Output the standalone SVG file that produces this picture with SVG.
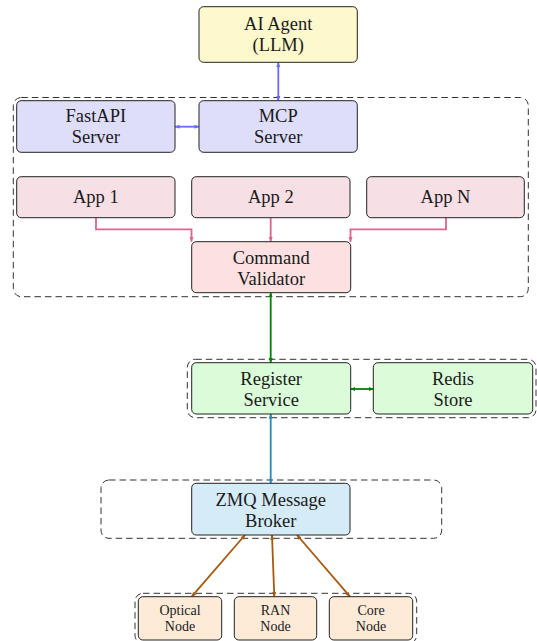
<svg xmlns="http://www.w3.org/2000/svg" width="537" height="641" viewBox="0 0 537 641">
<style>
.node{stroke:#222;stroke-width:1}
.grp{fill:none;stroke:#333;stroke-width:1;stroke-dasharray:6.5 4}
text{font-family:"Liberation Serif","Times New Roman",serif;font-size:18.5px;fill:#1a1a1a;text-anchor:middle}
.sm{font-size:14px}
.c{fill:none;stroke-width:1.8}
</style>
<defs>
<marker id="hb" viewBox="0 0 6 6" refX="5.5" refY="3" markerWidth="5" markerHeight="5" markerUnits="userSpaceOnUse" orient="auto-start-reverse"><path d="M0,0.6 L6,3 L0,5.4 Z" fill="#6b6bff"/></marker>
<marker id="hp" viewBox="0 0 6 6" refX="5.5" refY="3" markerWidth="5" markerHeight="5" markerUnits="userSpaceOnUse" orient="auto-start-reverse"><path d="M0,0.6 L6,3 L0,5.4 Z" fill="#dc6590"/></marker>
<marker id="hg" viewBox="0 0 6 6" refX="5.5" refY="3" markerWidth="5" markerHeight="5" markerUnits="userSpaceOnUse" orient="auto-start-reverse"><path d="M0,0.6 L6,3 L0,5.4 Z" fill="#008000"/></marker>
<marker id="ht" viewBox="0 0 6 6" refX="5.5" refY="3" markerWidth="5" markerHeight="5" markerUnits="userSpaceOnUse" orient="auto-start-reverse"><path d="M0,0.6 L6,3 L0,5.4 Z" fill="#2b8bb0"/></marker>
<marker id="hr" viewBox="0 0 6 6" refX="5.5" refY="3" markerWidth="5" markerHeight="5" markerUnits="userSpaceOnUse" orient="auto-start-reverse"><path d="M0,0.6 L6,3 L0,5.4 Z" fill="#a65a10"/></marker>
</defs>
<g id="groups">
<rect class="grp" x="13.3" y="97.5" width="515" height="199.2" rx="8"/>
<rect class="grp" x="187.3" y="359.3" width="348.7" height="58.4" rx="8"/>
<rect class="grp" x="101" y="480" width="340.7" height="58.3" rx="8"/>
<rect class="grp" x="135" y="593.3" width="281.7" height="50" rx="8"/>
</g>
<g id="connectors">
<line class="c" stroke="#6b6bff" x1="278.3" y1="62.3" x2="278.3" y2="100.7" marker-start="url(#hb)" marker-end="url(#hb)"/>
<line class="c" stroke="#6b6bff" x1="175" y1="126.7" x2="199" y2="126.7" marker-start="url(#hb)" marker-end="url(#hb)"/>
<path class="c" stroke="#dc6590" d="M96,217.7 V229.3 H191.5 V241.7" marker-end="url(#hp)"/>
<path class="c" stroke="#dc6590" d="M270.7,217.7 V241.7" marker-end="url(#hp)"/>
<path class="c" stroke="#dc6590" d="M446,217.7 V229.3 H350.5 V241.7" marker-end="url(#hp)"/>
<line class="c" stroke="#008000" x1="270.7" y1="292.7" x2="270.7" y2="362.7" marker-start="url(#hg)" marker-end="url(#hg)"/>
<line class="c" stroke="#008000" x1="350.7" y1="389" x2="373.3" y2="389" marker-start="url(#hg)" marker-end="url(#hg)"/>
<line class="c" stroke="#2b8bb0" x1="270.7" y1="414" x2="270.7" y2="483.3" marker-start="url(#ht)" marker-end="url(#ht)"/>
<line class="c" stroke="#a65a10" x1="245" y1="535" x2="191.7" y2="596.7" marker-start="url(#hr)" marker-end="url(#hr)"/>
<line class="c" stroke="#a65a10" x1="272" y1="535" x2="274.3" y2="596.7" marker-start="url(#hr)" marker-end="url(#hr)"/>
<line class="c" stroke="#a65a10" x1="297" y1="535" x2="350" y2="596.7" marker-start="url(#hr)" marker-end="url(#hr)"/>
</g>
<g id="ai-agent"><rect class="node" x="199" y="6.7" width="158.3" height="55.6" rx="4.5" fill="#fdf9cc"/><text x="278.2" y="29.5">AI Agent</text><text x="278.2" y="50.5">(LLM)</text></g>
<g id="fastapi"><rect class="node" x="16.7" y="100.7" width="158.3" height="51.6" rx="4.5" fill="#dedefb"/><text x="95.8" y="121.5">FastAPI</text><text x="95.8" y="142.5">Server</text></g>
<g id="mcp"><rect class="node" x="199" y="100.7" width="158.3" height="51.6" rx="4.5" fill="#dedefb"/><text x="278.2" y="121.5">MCP</text><text x="278.2" y="142.5">Server</text></g>
<g id="app1"><rect class="node" x="16.7" y="176.7" width="158.3" height="41" rx="4.5" fill="#f7dfe6"/><text x="95.8" y="202.5">App 1</text></g>
<g id="app2"><rect class="node" x="191.7" y="176.7" width="158.3" height="41" rx="4.5" fill="#f7dfe6"/><text x="270.8" y="202.5">App 2</text></g>
<g id="appn"><rect class="node" x="366.7" y="176.7" width="157.6" height="41" rx="4.5" fill="#f7dfe6"/><text x="445.5" y="202.5">App N</text></g>
<g id="validator"><rect class="node" x="191.7" y="241.7" width="159" height="51" rx="4.5" fill="#fde0e1"/><text x="271.2" y="263.5">Command</text><text x="271.2" y="284.5">Validator</text></g>
<g id="register"><rect class="node" x="191.7" y="362.7" width="159" height="51.3" rx="4.5" fill="#dafcd9"/><text x="271.2" y="384.5">Register</text><text x="271.2" y="405.5">Service</text></g>
<g id="redis"><rect class="node" x="373.3" y="362.7" width="159.4" height="51.3" rx="4.5" fill="#dafcd9"/><text x="453" y="384.5">Redis</text><text x="453" y="405.5">Store</text></g>
<g id="zmq"><rect class="node" x="191.7" y="483.3" width="158.3" height="51.7" rx="4.5" fill="#d5ebf8"/><text x="270.8" y="505.5">ZMQ Message</text><text x="270.8" y="526.5">Broker</text></g>
<g id="optical"><rect class="node" x="138.3" y="596.7" width="83.4" height="43.3" rx="4.5" fill="#fdebd8"/><text class="sm" x="180" y="615">Optical</text><text class="sm" x="180" y="631">Node</text></g>
<g id="ran"><rect class="node" x="234.3" y="596.7" width="82.4" height="43.3" rx="4.5" fill="#fdebd8"/><text class="sm" x="275.5" y="615">RAN</text><text class="sm" x="275.5" y="631">Node</text></g>
<g id="core"><rect class="node" x="329.3" y="596.7" width="83.4" height="43.3" rx="4.5" fill="#fdebd8"/><text class="sm" x="371" y="615">Core</text><text class="sm" x="371" y="631">Node</text></g>
</svg>
